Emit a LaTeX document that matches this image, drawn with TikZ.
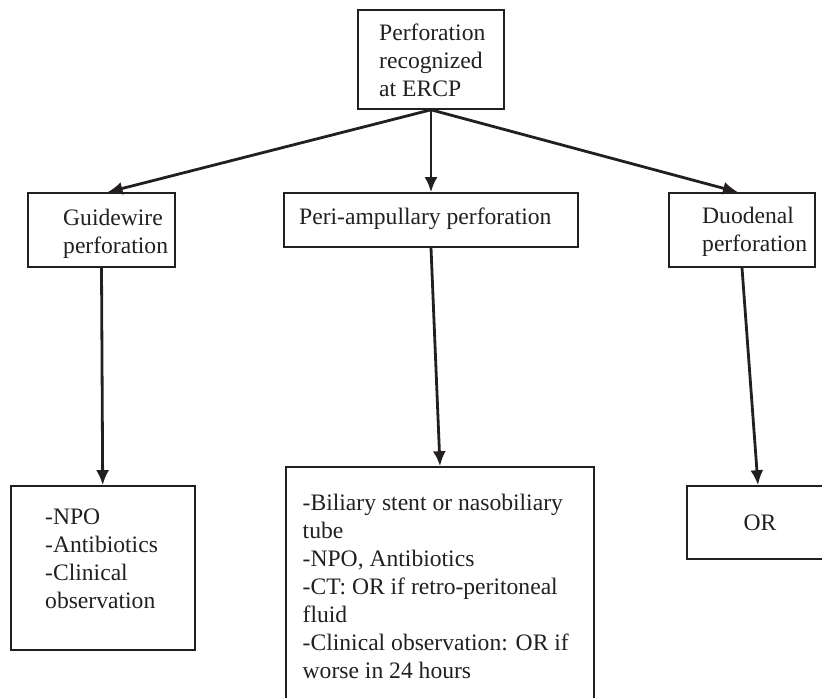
\documentclass[tikz,border=0pt]{standalone}
\usepackage{fontspec}
\setmainfont{Liberation Serif}
\usetikzlibrary{arrows.meta}

\definecolor{ink}{RGB}{35,31,32}

\tikzset{
  box/.style={draw=ink, line width=1.6pt, inner sep=0pt},
  link/.style={draw=ink, line width=2.8pt, -{Latex[length=15pt,width=13pt]}},
  txt/.style={anchor=base west, align=left, inner sep=0pt, text=ink,
    font=\fontsize{23.6}{28}\selectfont}
}

\begin{document}
\begin{tikzpicture}[x=1pt,y=1pt,yscale=-1,xscale=1]
\clip (0,0) rectangle (822,698);

%Shape: Rectangle [top]
\node [box, minimum width=146pt, minimum height=99pt] (ercp) at (431,59.5) {};
%Shape: Rectangle [row 2]
\node [box, minimum width=147pt, minimum height=74pt] (guide) at (101.5,230) {};
\node [box, minimum width=294pt, minimum height=54pt] (peri) at (431,220) {};
\node [box, minimum width=146pt, minimum height=74pt] (duod) at (742,230) {};
%Shape: Rectangle [row 3]
\node [box, minimum width=184pt, minimum height=164pt] (guidecare) at (102.7,568) {};
\node [box, minimum width=308pt, minimum height=253pt] (pericare) at (440,593.5) {};
\node [box, minimum width=142pt, minimum height=73pt] (duodcare) at (758,522.5) {};

%Straight Lines
\draw [link] (ercp.south) -- ([xshift=6pt]guide.north);
\draw [link] (ercp.south) -- (peri.north);
\draw [link] (ercp.south) -- ([xshift=-4pt]duod.north);
%Straight Lines
\draw [link] (guide.south) -- (guidecare.north);
\draw [link] (peri.south) -- (pericare.north);
\draw [link] (duod.south) -- (duodcare.north);

% Text Node (base = last line)
\node [txt] (ercptext) at (379,96.7) {Perforation\\recognized\\at ERCP};
% Text Node
\node [txt] (guidetext) at (63,253) {Guidewire\\perforation};
% Text Node
\node [txt] (peritext) at (299,224) {Peri-ampullary perforation};
% Text Node
\node [txt] (duodtext) at (702,251) {Duodenal\\perforation};
% Text Node
\node [txt] (guidecaretext) at (45,608) {-NPO\\-Antibiotics\\-Clinical\\observation};
% Text Node
\node [txt] (pericaretext) at (302.5,678) {-Biliary stent or nasobiliary\\tube\\-NPO, Antibiotics\\-CT: OR if retro-peritoneal\\fluid\\-Clinical observation: OR if\\worse in 24 hours};
% Text Node
\node [txt, anchor=base] (duodcaretext) at (760,530) {OR};

\end{tikzpicture}
\end{document}
